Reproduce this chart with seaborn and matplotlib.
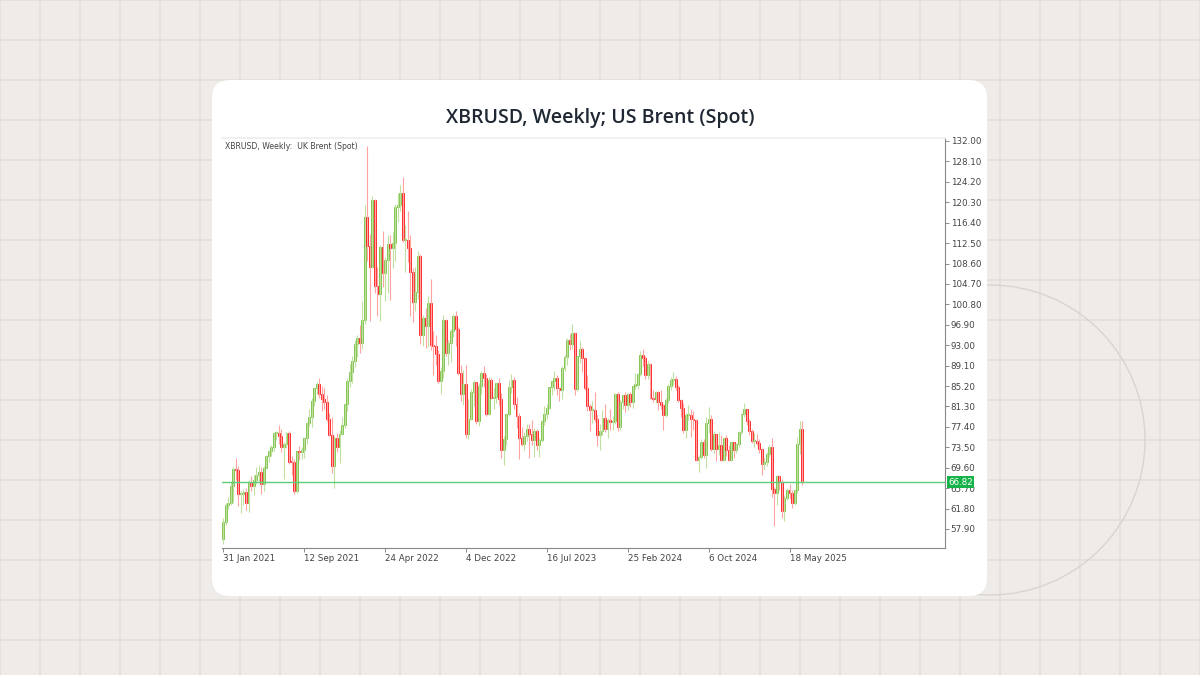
import numpy as np
import matplotlib
matplotlib.use("Agg")
import matplotlib.pyplot as plt
from matplotlib.patches import FancyBboxPatch, Circle
import seaborn as sns

title = "XBRUSD, Weekly; US Brent (Spot)"
inner_label = "XBRUSD, Weekly:  UK Brent (Spot)"
first_open = 56.0
closes = [59.3,62.4,62.9,66.1,69.4,69.2,64.5,64.6,64.9,62.9,66.8,66.1,67.3,68.3,68.7,66.4,69.6,71.9,72.7,73.5,76.2,76.2,75.6,73.6,74.1,76.3,70.7,70.6,65.2,72.7,72.6,72.9,75.3,78.1,79.3,82.4,84.9,85.5,83.7,82.7,82.2,78.9,75.9,69.9,75.2,73.5,76.1,77.8,
 81.8,86.1,87.9,90.0,93.3,94.4,93.5,97.9,117.5,112.0,107.9,120.7,104.4,102.8,111.7,106.7,109.3,112.4,111.6,112.6,119.4,119.7,122.0,113.1,113.1,111.6,107.0,101.2,103.2,110.0,94.9,98.2,96.7,101.0,93.0,92.8,91.4,86.2,88.0,97.9,91.6,93.5,95.8,98.6,96.0,87.6,83.6,85.6,76.1,79.0,84.0,85.9,
 78.6,85.3,87.6,86.7,79.9,86.4,83.0,83.2,85.8,82.8,73.0,75.0,79.8,85.1,86.3,81.7,79.5,75.3,74.2,75.6,77.0,76.1,74.8,76.6,73.9,74.9,78.5,79.9,81.1,85.0,86.2,86.8,84.8,84.5,88.6,90.7,93.9,93.3,95.3,84.6,90.9,92.2,90.5,84.9,81.4,80.6,80.6,78.9,75.8,76.6,79.1,77.0,
 78.8,78.3,78.6,83.6,77.3,82.2,83.5,81.6,83.6,82.1,85.3,85.4,87.5,91.2,90.5,87.3,89.5,83.0,82.8,84.0,82.1,81.6,79.6,82.6,85.2,86.4,86.5,85.0,82.6,81.1,76.8,79.7,79.7,79.0,78.8,71.1,71.6,74.5,72.0,78.1,79.0,73.1,76.1,73.1,73.9,71.0,75.2,72.9,71.1,74.5,72.9,74.2,
 76.5,79.8,80.8,78.5,76.7,74.7,74.7,74.4,73.2,70.4,70.6,72.2,73.6,65.6,64.8,68.0,66.9,61.3,63.9,65.4,64.8,62.8,65.3,74.2,77.0,67.0]
highs = [60.0,62.8,64.0,66.8,69.8,71.4,69.9,65.2,65.5,65.8,67.3,68.1,68.3,69.8,70.1,69.7,69.9,72.1,72.9,74.0,76.4,76.6,77.8,77.0,74.5,76.5,76.6,71.9,71.2,72.8,73.7,73.5,75.5,78.4,80.8,82.9,84.9,86.0,86.7,85.3,84.9,83.4,80.0,79.3,75.7,76.2,76.8,79.3,
 82.0,86.7,89.5,91.0,94.0,95.0,96.8,101.5,119.8,131.0,114.2,121.5,121.0,107.9,112.2,114.8,109.9,114.0,114.0,114.6,119.9,122.0,123.6,125.2,116.0,118.6,114.0,107.7,108.0,110.9,110.4,98.8,100.1,102.4,105.6,95.7,95.0,92.1,88.8,98.8,98.0,94.0,96.0,98.9,99.6,96.4,89.3,88.2,89.3,82.7,84.7,86.3,
 86.0,85.7,88.1,89.1,87.5,86.9,86.7,84.9,86.0,86.8,83.9,75.7,79.9,86.4,87.5,86.9,83.1,80.0,77.4,76.5,78.0,78.0,78.7,77.2,77.0,75.2,78.8,81.3,81.7,85.1,86.2,88.1,87.4,84.9,89.0,91.2,94.4,95.1,97.1,95.6,91.0,93.8,92.6,90.8,87.4,81.8,82.3,84.0,79.7,78.0,80.6,81.8,
 79.1,80.8,79.5,83.8,84.0,82.5,83.5,84.0,83.9,84.0,85.3,87.7,87.6,91.9,92.2,91.0,90.0,89.6,84.5,84.3,84.2,84.4,81.8,83.0,85.6,87.0,87.9,87.1,85.4,82.8,81.9,80.1,81.6,80.8,80.4,79.0,72.0,75.0,75.0,79.3,81.2,79.6,76.7,76.1,76.4,75.9,75.5,75.8,74.0,74.6,74.6,74.4,
 76.7,80.0,82.0,80.8,79.0,77.0,76.2,76.0,75.0,73.3,71.4,72.6,74.0,75.3,66.0,68.3,68.3,67.4,64.4,65.7,66.4,65.4,65.6,75.4,78.5,78.5]
lows = [55.0,58.6,61.8,62.5,63.0,67.3,62.3,61.0,62.5,61.6,61.2,65.1,64.4,66.5,66.7,64.6,65.2,69.5,70.6,71.8,72.8,74.8,74.1,72.6,67.4,73.3,70.3,68.2,64.6,64.8,71.0,71.3,71.4,74.1,77.5,77.4,81.3,83.7,83.0,80.5,80.8,78.5,75.6,68.6,65.7,72.6,70.5,75.8,
 77.1,80.5,85.0,85.7,88.9,90.7,91.6,92.3,97.0,109.0,97.7,107.7,103.0,98.5,97.6,104.1,101.4,103.0,101.7,107.8,109.0,116.6,118.6,112.7,107.0,108.9,98.5,97.5,99.6,101.9,93.2,92.8,92.4,92.6,92.0,87.3,89.3,85.7,83.6,86.8,91.0,89.3,89.8,94.5,92.9,87.4,82.4,81.5,75.2,75.1,78.8,81.4,
 77.9,77.6,83.7,85.0,79.5,79.6,82.7,80.8,82.0,81.5,71.4,70.1,73.9,79.4,83.9,80.9,77.1,71.3,73.8,73.0,74.7,71.4,74.0,71.6,73.0,71.6,74.6,77.8,78.9,80.9,83.4,84.4,83.5,82.4,82.8,88.1,89.3,92.0,92.2,83.5,84.2,89.6,87.8,84.4,80.4,76.6,78.2,78.4,73.8,72.9,75.8,76.5,
 75.3,76.8,76.8,77.9,76.6,76.9,80.8,80.2,80.7,81.2,81.1,84.6,84.7,87.1,89.0,86.6,86.5,82.8,82.1,81.9,80.7,80.9,76.8,79.2,82.0,84.4,85.4,84.4,82.2,79.2,76.2,75.2,78.8,75.5,76.8,70.9,68.7,71.3,71.5,69.5,76.2,72.8,72.5,70.9,72.0,70.8,70.8,71.8,70.8,70.9,71.4,72.5,
 73.6,76.0,79.3,77.7,75.9,74.3,73.5,74.0,72.4,68.3,69.1,70.0,71.6,64.0,58.4,62.5,65.3,60.0,59.5,63.5,63.6,62.0,62.5,64.8,72.3,66.3]
last_price = 66.82
x_tick_weeks = [0, 32, 64, 96, 128, 160, 192, 224]
x_tick_labels = ["31 Jan 2021", "12 Sep 2021", "24 Apr 2022", "4 Dec 2022",
                 "16 Jul 2023", "25 Feb 2024", "6 Oct 2024", "18 May 2025"]
y_ticks = [57.90, 61.80, 65.70, 69.60, 73.50, 77.40, 81.30, 85.20, 89.10, 93.00,
           96.90, 100.80, 104.70, 108.60, 112.50, 116.40, 120.30, 124.20, 128.10, 132.00]

sns.set_theme(style="white")
plt.rcParams['font.family'] = ['DejaVu Sans']

W, H = 1200, 675
fig = plt.figure(figsize=(12, 6.75), dpi=100)
fig.patch.set_facecolor("#eeebe8")

# background grid decoration
bg = fig.add_axes([0, 0, 1, 1])
bg.set_xlim(0, W); bg.set_ylim(H, 0); bg.axis("off")
for gx in range(0, W + 1, 40):
    bg.axvline(gx, color="#e3dfdb", lw=1.2, zorder=1)
for gy in range(0, H + 1, 40):
    bg.axhline(gy, color="#e3dfdb", lw=1.2, zorder=1)
bg.add_patch(Circle((990, 440), 155, fill=False, ec="#d9d4d0", lw=1, zorder=2))
bg.add_patch(FancyBboxPatch((212, 80), 775, 516, boxstyle="round,pad=0,rounding_size=18",
                            fc="white", ec="none", zorder=3))
bg.text(600, 118, title, ha="center", va="center", fontsize=14, fontweight="semibold",
        family="Open Sans", color="#1f2733", zorder=4)

ax = fig.add_axes([222 / W, (H - 548) / H, 723 / W, 410 / H])
ax.set_facecolor("white")
n = len(closes)
opens = [first_open] + closes[:-1]
weeks = np.arange(n)
green_body, red_body = "#6fbd35", "#ff0a0a"
green_wick, red_wick = "#bfe0a0", "#ffa3a3"
up = np.array(closes) >= np.array(opens)
ax.vlines(weeks[up], np.array(lows)[up], np.array(highs)[up], color=green_wick, lw=0.8)
ax.vlines(weeks[~up], np.array(lows)[~up], np.array(highs)[~up], color=red_wick, lw=0.8)
bot = np.minimum(opens, closes)
hgt = np.maximum(np.abs(np.array(closes) - np.array(opens)), 0.2)
cols = np.where(up, green_body, red_body)
ax.bar(weeks, hgt, bottom=bot, width=0.75, color=cols, edgecolor=cols, linewidth=0.5)
ax.axhline(last_price, color="#5ccf7a", lw=1)

ax.set_xlim(-0.5, 285.5)
ax.set_ylim(54.27, 132.57)
ax.yaxis.tick_right()
ax.set_yticks(y_ticks)
ax.set_yticklabels([f"{v:.2f}" for v in y_ticks])
ax.set_xticks(x_tick_weeks)
ax.set_xticklabels(x_tick_labels, ha="left")
ax.tick_params(axis="both", labelsize=6.3, labelcolor="#444444", length=3, width=0.6,
               color="#777777", pad=1, bottom=True, right=True)
ax.spines["left"].set_visible(False)
ax.spines["top"].set_color("#eeeeee")
for side in ["right", "bottom"]:
    ax.spines[side].set_color("#888888"); ax.spines[side].set_linewidth(0.8)
ax.text(0.004, 0.99, inner_label, transform=ax.transAxes, fontsize=5.6, color="#444444", va="top")
ax.text(1.004, last_price, f"{last_price:.2f}", transform=ax.get_yaxis_transform(),
        fontsize=6.3, color="white", va="center", ha="left",
        bbox=dict(boxstyle="square,pad=0.15", fc="#16b34a", ec="none"))

fig.savefig("out.png", dpi=100)
